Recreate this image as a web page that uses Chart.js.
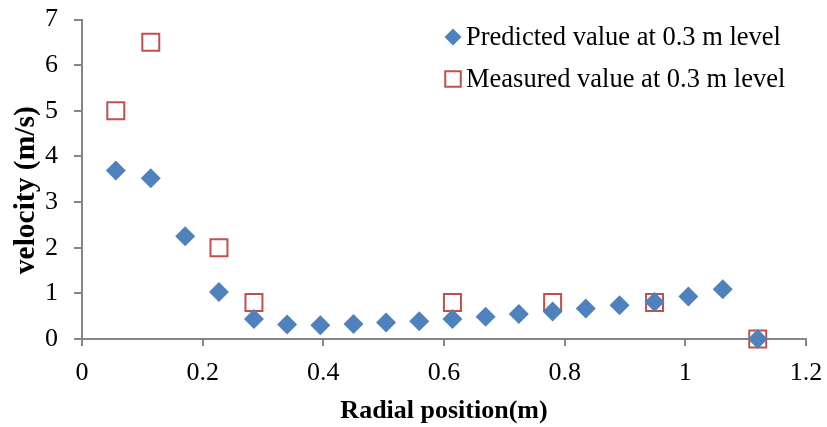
<!DOCTYPE html>
<html>
<head>
<meta charset="utf-8">
<script src="https://cdn.jsdelivr.net/npm/chart.js@4.4.0/dist/chart.umd.min.js"></script>
<style>
  html, body { margin: 0; padding: 0; background: #fff; }
  #wrap { width: 827px; height: 427px; }
</style>
</head>
<body>
<div id="wrap"><canvas id="chart" width="827" height="427"></canvas></div>
<script>
// values
const radialPos = [0.056, 0.114, 0.171, 0.227, 0.285, 0.340, 0.395, 0.450, 0.504, 0.559,
                   0.614, 0.669, 0.724, 0.780, 0.835, 0.891, 0.949, 1.005, 1.062, 1.120];
const predicted = [3.69, 3.52, 2.25, 1.03, 0.44, 0.32, 0.30, 0.33, 0.36, 0.39,
                   0.44, 0.49, 0.55, 0.60, 0.67, 0.74, 0.81, 0.93, 1.09, 0.00];
const measuredPos = [0.056, 0.114, 0.227, 0.285, 0.614, 0.780, 0.949, 1.120];
const measured = [5.0, 6.5, 2.0, 0.8, 0.8, 0.8, 0.8, 0.0];

const xTicks = [0, 0.2, 0.4, 0.6, 0.8, 1, 1.2];
const yTicks = [0, 1, 2, 3, 4, 5, 6, 7];
const seriesNames = ['Predicted value at 0.3 m level', 'Measured value at 0.3 m level'];

const FONT = "'Liberation Serif', 'Times New Roman', serif";
const AXIS_GREY = '#868686';

function toPoints(xs, ys) {
    return xs.map((x, i) => ({ x: x, y: ys[i] }));
}

// legend sits inside the plot, top right, stacked
const cornerLegend = {
    id: 'cornerLegend',
    afterLayout(chart) {
        // the y title sits a little below the middle of the axis in the original
        const y = chart.scales.y;
        if (y._titleShifted) return;
        const orig = y.drawTitle;
        y.drawTitle = function () {
            this.top += 11; this.bottom += 11;
            orig.call(this);
            this.top -= 11; this.bottom -= 11;
        };
        y._titleShifted = true;
    },
    afterDraw(chart) {
        const ctx = chart.ctx;
        const startX = 466, markerX = 453, rows = [37, 79];
        ctx.save();
        ctx.font = '26.5px ' + FONT;
        ctx.textBaseline = 'middle';
        ctx.textAlign = 'left';
        chart.data.datasets.forEach((ds, i) => {
            const y = rows[i];
            ctx.fillStyle = ds.pointBackgroundColor;
            ctx.strokeStyle = ds.pointBorderColor;
            ctx.lineWidth = ds.pointBorderWidth;
            Chart.helpers.drawPoint(ctx, {
                pointStyle: ds.pointStyle,
                rotation: 0,
                radius: ds.pointStyle === 'rectRot' ? 8.5 : 11,
                borderWidth: ds.pointBorderWidth
            }, markerX, y);
            ctx.fillStyle = '#000';
            ctx.fillText(ds.label, startX, y + 1);
        });
        ctx.restore();
    }
};

new Chart(document.getElementById('chart'), {
    type: 'scatter',
    data: {
        datasets: [
            {
                label: seriesNames[0],
                data: toPoints(radialPos, predicted),
                pointStyle: 'rectRot',
                pointRadius: 10,
                pointHoverRadius: 10,
                pointBackgroundColor: '#4F81BD',
                pointBorderColor: '#4F81BD',
                pointBorderWidth: 0,
                clip: false
            },
            {
                label: seriesNames[1],
                data: toPoints(measuredPos, measured),
                pointStyle: 'rect',
                pointRadius: 12,
                pointHoverRadius: 12,
                pointBackgroundColor: 'rgba(0,0,0,0)',
                pointBorderColor: '#C0504D',
                pointBorderWidth: 2,
                clip: false
            }
        ]
    },
    options: {
        responsive: false,
        animation: false,
        layout: { padding: { top: 19.5, right: 21, left: 0, bottom: 0 } },
        plugins: {
            legend: { display: false },
            tooltip: { enabled: false }
        },
        scales: {
            x: {
                type: 'linear',
                min: 0,
                max: 1.2,
                afterBuildTicks: scale => { scale.ticks = xTicks.map(v => ({ value: v })); },
                afterFit: scale => {
                    scale.height = 88;
                    scale.paddingLeft = 0;
                    scale.paddingRight = 0;
                },
                border: { color: AXIS_GREY, width: 2 },
                grid: { drawOnChartArea: false, drawTicks: true, tickLength: 7, color: AXIS_GREY, lineWidth: 2 },
                ticks: {
                    color: '#000',
                    padding: 12,
                    maxRotation: 0,
                    font: { family: FONT, size: 26 },
                    callback: v => String(Number(v.toFixed(1)))
                },
                title: {
                    display: true,
                    text: 'Radial position(m)',
                    color: '#000',
                    padding: { top: 0, bottom: 0 },
                    font: { family: FONT, size: 26, weight: 'bold' }
                }
            },
            y: {
                type: 'linear',
                min: 0,
                max: 7,
                afterBuildTicks: scale => { scale.ticks = yTicks.map(v => ({ value: v })); },
                afterFit: scale => {
                    scale.width = 82;
                    scale.paddingTop = 0;
                    scale.paddingBottom = 0;
                },
                border: { color: AXIS_GREY, width: 2 },
                grid: { drawOnChartArea: false, drawTicks: true, tickLength: 8, color: AXIS_GREY, lineWidth: 2 },
                ticks: {
                    color: '#000',
                    padding: 16,
                    font: { family: FONT, size: 26 }
                },
                title: {
                    display: true,
                    text: 'velocity (m/s)',
                    color: '#000',
                    padding: { top: 9, bottom: 0 },
                    font: { family: FONT, size: 29.5, weight: 'bold' }
                }
            }
        }
    },
    plugins: [cornerLegend]
});
</script>
</body>
</html>
